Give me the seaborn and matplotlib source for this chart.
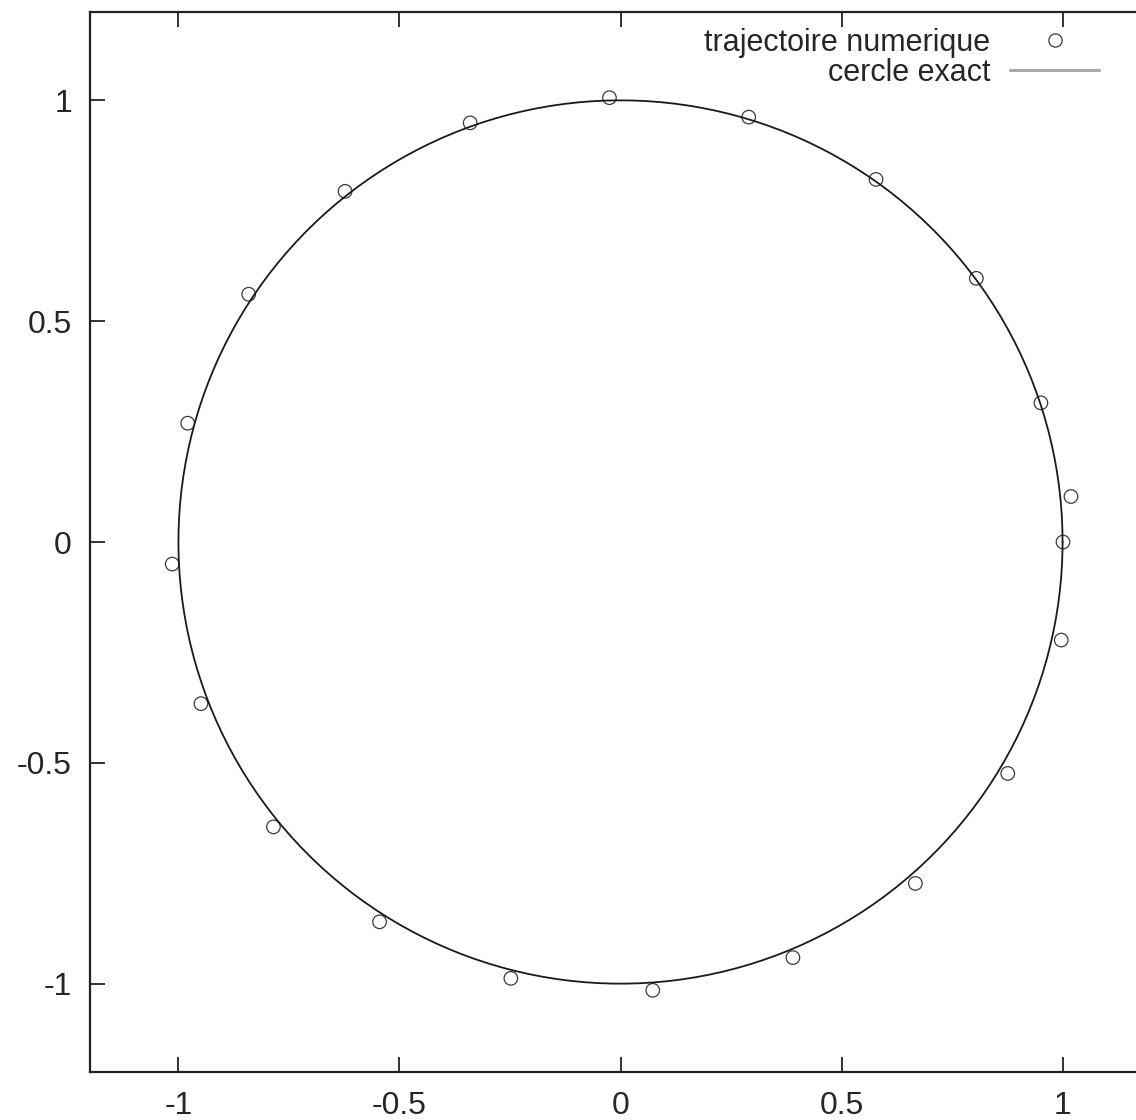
import numpy as np
import pandas as pd
import seaborn as sns
import matplotlib.pyplot as plt
from matplotlib.lines import Line2D

# numerical trajectory points
traj_x = [-0.025, 0.290, 0.578, 0.805, 0.951, 1.019, 1.001, 0.997, 0.876, 0.667, 0.390,
          0.073, -0.248, -0.545, -0.785, -0.949, -1.014, -0.979, -0.841, -0.623, -0.340]
traj_y = [1.006, 0.962, 0.821, 0.597, 0.315, 0.103, 0.000, -0.222, -0.524, -0.773, -0.941,
          -1.015, -0.988, -0.860, -0.645, -0.366, -0.050, 0.269, 0.561, 0.794, 0.949]

# exact unit circle
theta = np.linspace(0, 2 * np.pi, 400)
circle = pd.DataFrame({'x': np.cos(theta), 'y': np.sin(theta)})
traj = pd.DataFrame({'x': traj_x, 'y': traj_y})

ticks = [-1, -0.5, 0, 0.5, 1]
tick_labels = ['-1', '-0.5', '0', '0.5', '1']

sns.set_style("ticks")
plt.rcParams['font.family'] = ['Liberation Sans', 'DejaVu Sans']

fig = plt.figure(figsize=(11.36, 11.2), dpi=100)
ax = fig.add_axes([90 / 1136, 48 / 1120, 1061 / 1136, 1060 / 1120])

sns.lineplot(data=circle, x='x', y='y', sort=False, estimator=None, color='#1a1a1a',
             linewidth=1.3, ax=ax)
sns.scatterplot(data=traj, x='x', y='y', marker='o', s=95, facecolors='none',
                edgecolor='#3a3a3a', linewidth=0.9, ax=ax)

ax.set_xlim(-1.2, 1.2)
ax.set_ylim(-1.2, 1.2)
ax.set_xticks(ticks)
ax.set_xticklabels(tick_labels)
ax.set_yticks(ticks)
ax.set_yticklabels(tick_labels)
ax.set_xlabel('')
ax.set_ylabel('')
ax.tick_params(direction='in', length=11, width=1.3, labelsize=23, color='#222222',
               top=True, right=True)
ax.tick_params(axis='x', pad=14)
ax.tick_params(axis='y', pad=13)
for sp in ax.spines.values():
    sp.set_visible(True)
    sp.set_linewidth(1.6)
    sp.set_color('#222222')

handles = [
    Line2D([], [], linestyle='none', marker='o', markersize=9.5, markerfacecolor='none',
           markeredgecolor='#3a3a3a', markeredgewidth=0.9),
    Line2D([], [], color='#a8a8a8', linewidth=2.2),
]
ax.legend(handles, ['trajectoire numerique', 'cercle exact'], loc='upper right',
          bbox_to_anchor=(0.951, 0.985), frameon=False, markerfirst=False,
          fontsize=22, handlelength=2.9, handletextpad=0.65, labelspacing=0.0,
          borderpad=0, borderaxespad=0)

fig.savefig('out.png', dpi=100)
